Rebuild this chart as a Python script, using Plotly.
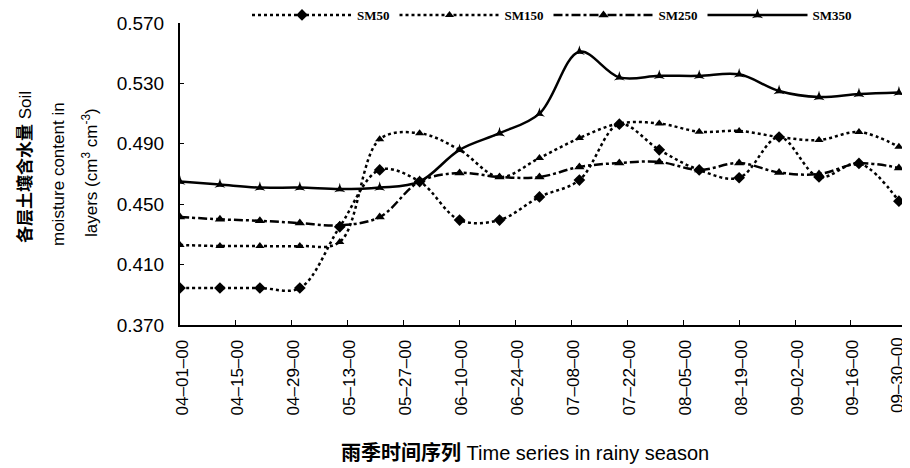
import plotly.graph_objects as go

dates = ["2000-04-01", "2000-04-11", "2000-04-21", "2000-05-01", "2000-05-11",
         "2000-05-21", "2000-05-31", "2000-06-10", "2000-06-20", "2000-06-30",
         "2000-07-10", "2000-07-20", "2000-07-30", "2000-08-09", "2000-08-19",
         "2000-08-29", "2000-09-08", "2000-09-18", "2000-09-28"]

sm50 = [0.3945, 0.3945, 0.3945, 0.3945, 0.435, 0.4727, 0.465, 0.4395, 0.4395, 0.4548,
        0.466, 0.503, 0.486, 0.4727, 0.4675, 0.4945, 0.468, 0.477, 0.452]
sm150 = [0.423, 0.4223, 0.4223, 0.4223, 0.425, 0.493, 0.497, 0.486, 0.468, 0.4806,
         0.4938, 0.5035, 0.5035, 0.498, 0.4985, 0.4945, 0.4925, 0.4978, 0.488]
sm250 = [0.4415, 0.440, 0.439, 0.4375, 0.436, 0.4415, 0.465, 0.4707, 0.468, 0.468,
         0.4747, 0.4773, 0.478, 0.4727, 0.4773, 0.471, 0.470, 0.477, 0.474]
sm350 = [0.465, 0.463, 0.461, 0.461, 0.460, 0.461, 0.465, 0.486, 0.497, 0.510,
         0.551, 0.534, 0.535, 0.535, 0.536, 0.525, 0.521, 0.523, 0.524]

tick_dates = ["2000-04-01", "2000-04-15", "2000-04-29", "2000-05-13", "2000-05-27",
              "2000-06-10", "2000-06-24", "2000-07-08", "2000-07-22", "2000-08-05",
              "2000-08-19", "2000-09-02", "2000-09-16", "2000-09-30"]
tick_labels = ["04–01–00", "04–15–00", "04–29–00", "05–13–00", "05–27–00",
               "06–10–00", "06–24–00", "07–08–00", "07–22–00", "08–05–00",
               "08–19–00", "09–02–00", "09–16–00", "09–30–00"]
y_ticks = [0.370, 0.410, 0.450, 0.490, 0.530, 0.570]

series = [
    ("SM50", sm50, "dot", "diamond", 9),
    ("SM150", sm150, "dot", "triangle-up", 8),
    ("SM250", sm250, "dashdot", "triangle-up", 9),
    ("SM350", sm350, "solid", "star-triangle-up", 8),
]

fig = go.Figure()
for name, vals, dash, sym, size in series:
    fig.add_trace(go.Scatter(
        x=dates, y=vals, name="<b>" + name + "</b>", mode="lines+markers",
        line=dict(color="black", width=2.5, dash=dash, shape="spline", smoothing=1),
        marker=dict(symbol=sym, size=size, color="black"),
    ))

# page is offset by the browser's 8px body margin
OFF = 8
W, H = 902, 460
L, T = 180 - OFF, 23 - OFF
R = W - (907 - OFF)
B = H - (325 - OFF)
pw = W - L - R
ph = H - T - B

def px_x(px):
    return (px - OFF - L) / pw

def px_y(py):
    return (H - B - (py - OFF)) / ph

# the last label sits at the window edge; draw it slightly inward as an annotation
shown_text = tick_labels[:-1] + [""]

fig.update_layout(
    width=W, height=H,
    margin=dict(l=L, r=R, t=T, b=B, autoexpand=False),
    paper_bgcolor="white", plot_bgcolor="white",
    font=dict(family="Liberation Sans, Arial, Noto Sans CJK SC", color="black"),
    showlegend=True,
    legend=dict(orientation="h", xref="container", yref="container",
                x=(552 - OFF) / W, xanchor="center", y=1 - (15 - OFF) / H, yanchor="middle",
                font=dict(family="Liberation Serif", size=13, color="black"),
                itemwidth=100, bgcolor="rgba(0,0,0,0)"),
    xaxis=dict(type="date", range=["2000-04-01", "2000-09-30 00:40"],
               tickvals=tick_dates, ticktext=shown_text, tickangle=-90,
               tickfont=dict(size=17), ticks="inside", ticklen=5, tickcolor="black",
               showline=True, linecolor="black", linewidth=2, showgrid=False,
               zeroline=False, ticklabelstandoff=6, automargin=False,
               ticklabeloverflow="allow", ticklabelshift=2),
    yaxis=dict(range=[0.370, 0.570], tickvals=y_ticks, tickformat=".3f",
               tickfont=dict(size=19), ticks="inside", ticklen=4, tickcolor="black",
               showline=True, linecolor="black", linewidth=2, showgrid=False,
               zeroline=False, ticklabelstandoff=10, automargin=False),
)

fig.add_annotation(text=tick_labels[-1], xref="paper", yref="paper",
                   x=px_x(897), y=px_y(336), xanchor="center", yanchor="top",
                   textangle=-90, showarrow=False, borderpad=0,
                   font=dict(size=17))

ylines = [("<b>各层土壤含水量</b> Soil", 25, 167),
          ("moisture content in", 58, 174),
          ("layers (cm<sup>3</sup> cm<sup>-3</sup>)", 90, 173)]
for txt, px, py in ylines:
    fig.add_annotation(text=txt, xref="paper", yref="paper", x=px_x(px), y=px_y(py),
                       xanchor="center", yanchor="middle", textangle=-90, showarrow=False,
                       font=dict(size=17, family="Liberation Sans, Noto Sans CJK SC"))

fig.add_annotation(text="<b>雨季时间序列</b> Time series in rainy season", xref="paper", yref="paper",
                   x=px_x(525), y=px_y(452), xanchor="center", yanchor="middle", showarrow=False,
                   font=dict(size=20, family="Liberation Sans, Noto Sans CJK SC"))

fig.write_html("out.html")
